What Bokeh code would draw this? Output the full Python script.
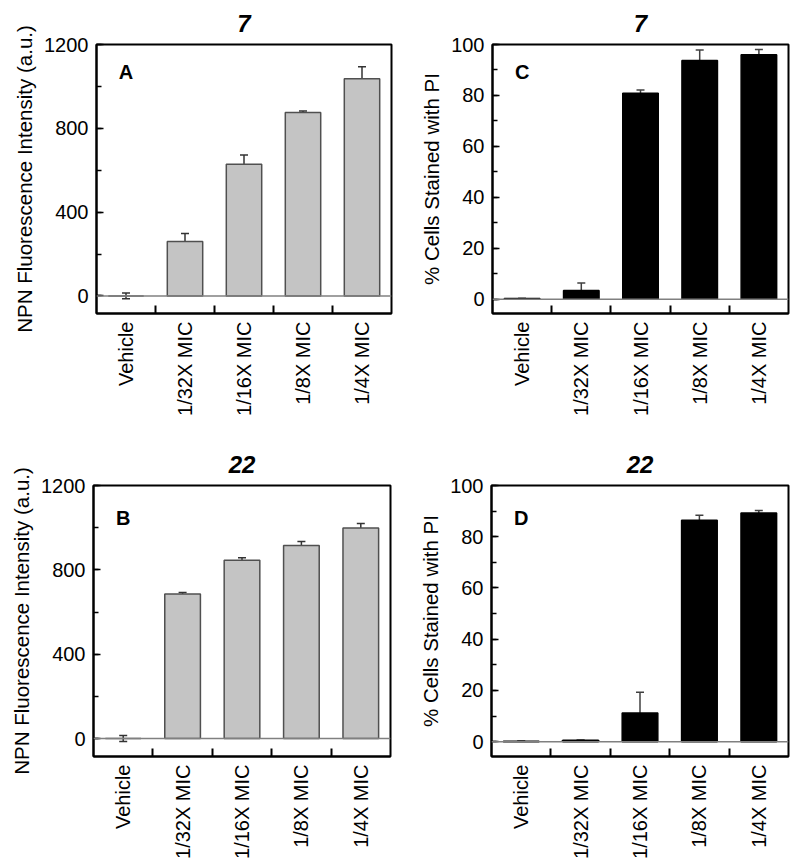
import math
from bokeh.plotting import figure
from bokeh.models import (Range1d, FixedTicker, SingleIntervalTicker, Whisker, TeeHead,
                          Span, Label, ColumnDataSource)
from bokeh.layouts import column, row
from bokeh.embed import file_html
from bokeh.resources import INLINE

categories = ["Vehicle", "1/32X MIC", "1/16X MIC", "1/8X MIC", "1/4X MIC"]

# Panel A: compound 7, NPN uptake
npn_7 = [0, 260, 629, 876, 1037]
npn_7_err = [14, 38, 43, 7, 57]
# Panel B: compound 22, NPN uptake
npn_22 = [0, 686, 845, 915, 998]
npn_22_err = [14, 7, 13, 20, 22]
# Panel C: compound 7, PI staining
pi_7 = [0.3, 3.4, 80.9, 93.7, 96.0]
pi_7_err = [0, 3.0, 1.2, 4.1, 2.0]
# Panel D: compound 22, PI staining
pi_22 = [0.2, 0.5, 11.2, 86.4, 89.3]
pi_22_err = [0, 0, 8.1, 2.0, 0.9]

FONT = "Liberation Sans"


def make_panel(values, errors, title, letter, letter_y, yrange, interval, ylabel,
               fill, line, err_color, width, height, mbl, mbr, mbt, mbb):
    idx = list(range(len(categories)))
    p = figure(width=width, height=height, output_backend="svg", toolbar_location=None,
               x_range=Range1d(-0.5, len(categories) - 0.5),
               y_range=Range1d(*yrange),
               min_border_left=mbl, min_border_right=mbr,
               min_border_top=mbt, min_border_bottom=mbb,
               title=title)
    p.background_fill_color = "white"
    p.border_fill_color = "white"
    p.outline_line_color = "black"
    p.outline_line_width = 2
    p.grid.grid_line_color = None

    p.title.text_font = FONT
    p.title.text_font_size = "24px"
    p.title.text_font_style = "bold italic"
    p.title.align = "center"
    p.title.padding = (0, 0, 0, 8)
    p.title.text_color = "black"

    src = ColumnDataSource(dict(
        x=idx, top=values,
        upper=[v + e for v, e in zip(values, errors)],
        lower=[v - e for v, e in zip(values, errors)],
    ))

    p.add_layout(Span(location=0, dimension="width", line_color="#808080", line_width=1.5))

    p.vbar(x="x", top="top", bottom=0, width=0.6, source=src,
           fill_color=fill, line_color=line, line_width=1.5)

    w = Whisker(base="x", upper="upper", lower="lower", source=src,
                line_color=err_color, line_width=1.5,
                upper_head=TeeHead(size=8, line_color=err_color, line_width=1.5),
                lower_head=TeeHead(size=8, line_color=err_color, line_width=1.5))
    p.add_layout(w)

    p.add_layout(Label(x=0, y=letter_y, text=letter, text_font=FONT,
                       text_font_size="20px", text_font_style="bold",
                       text_align="center", text_baseline="middle", text_color="black"))

    # x axis: labels at category centres, ticks at category boundaries
    xa = p.xaxis[0]
    xa.ticker = FixedTicker(ticks=idx, minor_ticks=[i + 0.5 for i in idx[:-1]])
    xa.major_label_overrides = {i: c for i, c in enumerate(categories)}
    xa.major_label_orientation = math.pi / 2
    xa.major_label_text_font = FONT
    xa.major_label_text_font_size = "20px"
    xa.major_label_text_color = "black"
    xa.major_label_standoff = 8
    xa.major_tick_in = 0
    xa.major_tick_out = 0
    xa.minor_tick_in = 8
    xa.minor_tick_out = 0
    xa.minor_tick_line_color = "black"
    xa.minor_tick_line_width = 2
    xa.axis_line_color = "black"
    xa.axis_line_width = 2

    ya = p.yaxis[0]
    ya.ticker = SingleIntervalTicker(interval=interval, num_minor_ticks=2)
    ya.axis_label = ylabel
    ya.axis_label_text_font = FONT
    ya.axis_label_text_font_size = "20.5px"
    ya.axis_label_text_font_style = "normal"
    ya.axis_label_text_color = "black"
    ya.axis_label_standoff = 5
    ya.major_label_text_font = FONT
    ya.major_label_text_font_size = "20px"
    ya.major_label_text_color = "black"
    ya.major_label_standoff = 8
    ya.major_tick_in = 7
    ya.major_tick_out = 0
    ya.minor_tick_in = 5
    ya.minor_tick_out = 0
    ya.major_tick_line_color = "black"
    ya.minor_tick_line_color = "black"
    ya.major_tick_line_width = 1.5
    ya.minor_tick_line_width = 1.5
    ya.axis_line_color = "black"
    ya.axis_line_width = 2
    return p


GREY = "#c4c4c4"
pA = make_panel(npn_7, npn_7_err, "7", "A", 1070, (-84, 1200), 400,
                "NPN Fluorescence Intensity (a.u.)", GREY, "#505050", "#333333",
                400, 441, 96, 9, 44, 128)
pC = make_panel(pi_7, pi_7_err, "7", "C", 89.4, (-5.6, 100), 20,
                "% Cells Stained with PI", "black", "black", "#404040",
                399, 441, 92, 11, 44, 128)
pB = make_panel(npn_22, npn_22_err, "22", "B", 1048, (-85, 1200), 400,
                "NPN Fluorescence Intensity (a.u.)", GREY, "#505050", "#333333",
                400, 424, 93, 10, 44, 109)
pD = make_panel(pi_22, pi_22_err, "22", "D", 87.5, (-5.8, 100), 20,
                "% Cells Stained with PI", "black", "black", "#404040",
                399, 424, 91, 11, 44, 109)

layout = column(row(pA, pC), row(pB, pD))
open("out.html", "w").write(file_html(layout, INLINE))
